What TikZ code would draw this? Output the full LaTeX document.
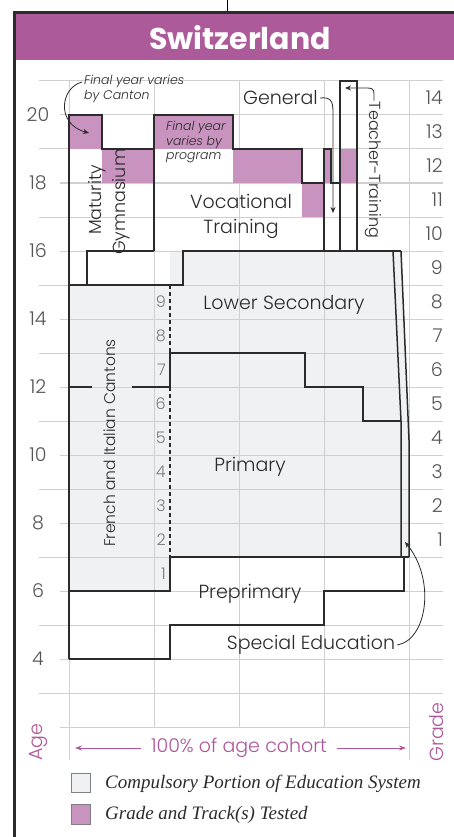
\documentclass[tikz,border=0pt]{standalone}
\usepackage{fontspec}
\setmainfont{Poppins}[UprightFont={* Light},ItalicFont={* Light Italic},BoldFont={* Bold}]
\newfontfamily\legendfont{Liberation Serif}
\usetikzlibrary{arrows.meta}
\definecolor{hdr}{HTML}{AD5A9B}
\definecolor{tested}{HTML}{C993BF}
\definecolor{compul}{HTML}{F0F1F3}
\definecolor{gridc}{HTML}{D0D0D0}
\definecolor{ink}{HTML}{2B2B2B}
\definecolor{numc}{HTML}{555555}
\definecolor{subnum}{HTML}{7A7A7A}
\definecolor{accent}{HTML}{B0559B}
\begin{document}
\begin{tikzpicture}[x=1pt,y=-1pt,
  gridline/.style={gridc,line width=1pt},
  outline/.style={ink,line width=1.5pt,line join=miter},
  testfill/.style={fill=tested,draw=none},
  agelbl/.style={numc,font=\fontsize{19}{19}\selectfont,inner sep=0pt},
  gradelbl/.style={numc,font=\fontsize{19}{19}\selectfont,inner sep=0pt,anchor=east},
  subgrade/.style={subnum,font=\fontsize{16}{16}\selectfont,inner sep=0pt,anchor=east},
  tracklbl/.style={ink,font=\fontsize{19}{25}\selectfont,inner sep=0pt},
  notelbl/.style={ink,font=\fontsize{12.5}{14.5}\itshape\selectfont,inner sep=0pt,align=left},
  pointer/.style={ink,line width=0.8pt,-{Stealth[length=6pt,width=5pt]}},
  cohort/.style={accent,line width=1pt,-{Stealth[length=7pt,width=5pt]}},
  keybox/.style={draw=gray,line width=0.8pt},
  keytext/.style={ink,font=\legendfont\fontsize{19}{19}\itshape\selectfont,inner sep=0pt,anchor=west}]
\useasboundingbox (0,0) rectangle (454,837);
\fill[white] (0,0) rectangle (454,837);

% page frame and header band
\draw[black,line width=0.8pt] (227,0) -- (227,13);
\fill[hdr] (14,13) rectangle (454,60);
\draw[ink,line width=3pt] (14,837) -- (14,13) -- (454,13);
\node[white,font=\fontsize{30}{30}\bfseries\selectfont] (title) at (240,38) {Switzerland};

% compulsory portion (light fill)
\fill[compul] (69,285) -- (170,285) -- (170,251) -- (401,251) -- (409,440)
  -- (409,557) -- (170,557) -- (170,591) -- (69,591) -- cycle;

% grid
\foreach \a in {3,5,...,21} \draw[gridline] (39,{795-34*\a}) -- (443,{795-34*\a});
\foreach \a in {4,6,...,20} \draw[gridline] (60,{795-34*\a}) -- (443,{795-34*\a});
\draw[gridline] (60,727) -- (409,727);
\foreach \x in {154,239,324} \draw[gridline] (\x,81) -- (\x,727);
\foreach \x in {69,409} \draw[gridline] (\x,81) -- (\x,760);

% tested grades and tracks
\fill[testfill] (69,115) rectangle (102,149);
\fill[testfill] (102,149) rectangle (154,183);
\fill[testfill] (154,115) rectangle (233,149);
\fill[testfill] (233,149) rectangle (302,183);
\fill[testfill] (302,183) rectangle (324,217);
\fill[testfill] (324,149) rectangle (331,183);
\fill[testfill] (340,149) rectangle (357,183);

% track outlines
\draw[outline] (69,659) -- (69,115) -- (102,115) -- (102,149) -- (154,149);
\draw[outline] (154,251) -- (154,115) -- (233,115) -- (233,149) -- (302,149) -- (302,183) -- (324,183);
\draw[outline] (324,251) -- (324,149) -- (331,149) -- (331,183) -- (340,183);
\draw[outline] (340,81) rectangle (357,251);
\draw[outline] (87,285) -- (87,251) -- (154,251);
\draw[outline] (69,285) -- (183,285) -- (183,251) -- (401,251);
\draw[outline] (393,251) -- (401,421) -- (401,557);
\draw[outline] (401,251) -- (409,440) -- (409,557);
\draw[outline] (69,387) -- (92,387);
\draw[outline] (132,387) -- (170,387) -- (170,353) -- (305,353) -- (305,387) -- (363,387) -- (363,421) -- (401,421);
\draw[outline] (69,591) -- (170,591) -- (170,557) -- (409,557);
\draw[outline] (404,557) -- (404,591) -- (324,591) -- (324,625) -- (170,625) -- (170,659) -- (69,659);
\draw[ink,line width=1.2pt,dash pattern=on 4pt off 3pt] (170,285) -- (170,353);
\draw[ink,line width=1.2pt,dash pattern=on 4pt off 3pt] (170,387) -- (170,557);

% age scale
\foreach \a in {4,6,...,20} \node[agelbl] (age\a) at (38,{795-34*\a}) {\a};
% grade scale
\foreach \g in {1,...,14} \node[gradelbl] (grade\g) at (443,{574-34*\g}) {\g};
% grades of the French and Italian cantons
\foreach \g in {1,...,9} \node[subgrade] (sgrade\g) at (166,{608-34*\g}) {\g};

% track labels
\node[tracklbl] (lowsec) at (284,305) {Lower Secondary};
\node[tracklbl] (primary) at (250,467) {Primary};
\node[tracklbl] (preprim) at (250,594) {Preprimary};
\node[tracklbl] (specialed) at (311,645) {Special Education};
\node[tracklbl,align=center] (voc) at (241,216) {Vocational\\Training};
\node[tracklbl,font=\fontsize{17.5}{17.5}\selectfont,rotate=90] (maturity) at (97,200) {Maturity};
\node[tracklbl,font=\fontsize{17.5}{17.5}\selectfont,rotate=90] (gymnasium) at (121,202) {Gymnasium};
\node[tracklbl,font=\fontsize{15.5}{15.5}\selectfont,rotate=90] (cantons) at (110,443) {French and Italian Cantons};
\node[tracklbl,font=\fontsize{16}{16}\selectfont,rotate=-90] (teacher) at (373,170) {Teacher-Training};
\node[tracklbl,anchor=east] (general) at (318,98) {General};

% notes
\node[notelbl,anchor=north west] (cantonnote) at (84,75) {Final year varies\\by Canton};
\node[notelbl,anchor=north west] (prognote) at (166,121) {Final year\\varies by\\program};

% pointers
\coordinate (cantontip) at (89,133);
\coordinate (generaltip) at (333,213);
\coordinate (teachertip) at (345,88);
\coordinate (specialtip) at (405,542);
\draw[pointer] (82,82) .. controls (60,88) and (56,124) .. (cantontip);
\draw[pointer] (general.east) ++(2,0) .. controls (330,97) and (333,100) .. (333,112) -- (generaltip);
\draw[pointer] (teacher.west) ++(1,-1) -- (374,94) .. controls (374,89) and (372,88) .. (367,88) -- (teachertip);
\draw[pointer] (specialed.east) ++(2,0) .. controls (427,640) and (436,580) .. (specialtip);

% axis captions
\node[accent,font=\fontsize{19}{19}\selectfont,rotate=90,inner sep=0pt] (agecap) at (38,742) {Age};
\node[accent,font=\fontsize{19}{19}\selectfont,rotate=90,inner sep=0pt] (gradecap) at (437,732) {Grade};
\node[accent,font=\fontsize{19}{19}\selectfont,inner sep=0pt] (cohortcap) at (239,748) {100\% of age cohort};
\coordinate (cohortL) at (75,748);
\coordinate (cohortR) at (406,748);
\draw[cohort] (cohortcap.west) ++(-10,0) -- (cohortL);
\draw[cohort] (cohortcap.east) ++(10,0) -- (cohortR);

% key
\draw[keybox,fill=compul] (71,773) rectangle (90,792);
\node[keytext] (key1) at (105,784) {Compulsory Portion of Education System};
\draw[keybox,fill=tested] (71,804) rectangle (90,824);
\node[keytext] (key2) at (105,815) {Grade and Track(s) Tested};
\end{tikzpicture}
\end{document}
